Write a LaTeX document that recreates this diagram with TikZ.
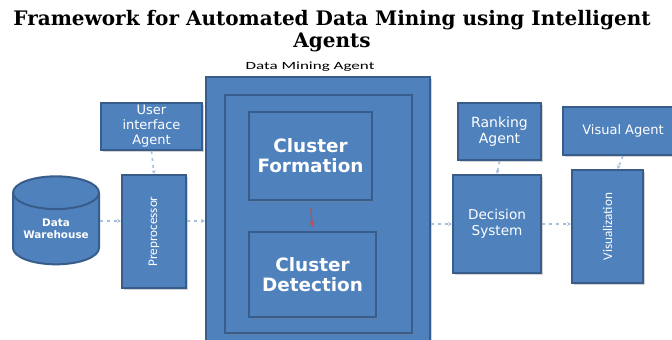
\documentclass[tikz,border=0pt]{standalone}
\usepackage{fontspec}
\setmainfont{DejaVu Sans}
\newfontfamily\titlefont{DejaVu Serif}
\newfontfamily\narrowfont{Carlito}
\usetikzlibrary{shapes.geometric,arrows.meta,shadows}

\definecolor{boxblue}{HTML}{4F81BD}
\definecolor{boxline}{HTML}{385D8A}
\definecolor{linkblue}{HTML}{A7BFDE}
\definecolor{linkred}{HTML}{C0504D}

\tikzset{
  block/.style={draw=boxline, line width=1pt, fill=boxblue, text=white, align=center,
    inner sep=0pt, drop shadow={shadow xshift=1pt, shadow yshift=-1pt, opacity=0.35}},
  link/.style={draw=linkblue, line width=0.8pt, dashed, dash pattern=on 1.5pt off 2pt,
    -{Stealth[length=2pt,width=2pt]}},
}

\begin{document}
\begin{tikzpicture}[x=0.5pt, y=-0.5pt]
  \useasboundingbox (0,0) rectangle (672,339);
  \begin{scope}
    \clip (0,0) rectangle (672,339);
    \node at (332,20) {\titlefont\bfseries\fontsize{10}{12}\selectfont Framework for Automated Data Mining using Intelligent};
    \node at (332,42) {\titlefont\bfseries\fontsize{10}{12}\selectfont Agents};
    \node[xscale=1.55] (lbl) at (310,67) {\narrowfont\fontsize{5.5}{6}\selectfont Data Mining Agent};

    \node[block, minimum width=112pt, minimum height=134pt] (dma) at (318,211) {};
    \node[block, minimum width=93.5pt, minimum height=119pt, drop shadow={opacity=0}] (core) at (318.5,214) {};
    \node[block, minimum width=61.5pt, minimum height=44pt, font=\bfseries\fontsize{9.2}{10}\selectfont] (cf) at (310.5,156) {Cluster\\Formation};
    \node[block, minimum width=63.5pt, minimum height=42.5pt, font=\bfseries\fontsize{9.2}{10}\selectfont] (cd) at (312.5,274.5) {Cluster\\Detection};

    \node[block, minimum width=50.5pt, minimum height=23.5pt, font=\fontsize{6.5}{7.5}\selectfont] (ui) at (151.5,126.5) {User\\interface\\Agent};
    \node[block, minimum width=32pt, minimum height=56.5pt] (pre) at (154,231.5) {};
    \node[rotate=90, text=white, font=\narrowfont\fontsize{6.6}{7}\selectfont] at (pre) {Preprocessor};
    \node[cylinder, shape border rotate=90, aspect=0.5, draw=boxline, line width=1pt, fill=boxblue,
      text=white, align=center, minimum width=43pt, minimum height=44pt, inner sep=0pt,
      font=\bfseries\fontsize{5.2}{6.2}\selectfont] (dw) at (56,229) {Data\\Warehouse};

    \node[block, minimum width=41.5pt, minimum height=28.5pt, font=\fontsize{7}{8}\selectfont] (rank) at (499.5,131.5) {Ranking\\Agent};
    \node[block, minimum width=44pt, minimum height=49pt, font=\fontsize{6.8}{8}\selectfont] (ds) at (497,224) {Decision\\System};
    \node[block, minimum width=60pt, minimum height=24pt, font=\fontsize{6.5}{7.5}\selectfont] (va) at (623,131) {Visual Agent};
    \node[block, minimum width=35.5pt, minimum height=56.5pt] (vis) at (607.5,226.5) {};
    \node[rotate=90, text=white, font=\narrowfont\fontsize{6.6}{7}\selectfont] at (vis) {Visualization};

    \draw[link] ([yshift=4pt]dw.east) -- ([yshift=4pt]dw.east -| pre.west);
    \draw[link] ([yshift=4pt]dw.east -| pre.east) -- ([yshift=4pt]dw.east -| dma.west);
    \draw[link] (ui.south) -- (pre.north);
    \draw[link] (ds.west -| dma.east) -- (ds.west);
    \draw[link] (ds.east) -- (ds.east -| vis.west);
    \draw[link] (rank.south) -- (ds.north);
    \draw[link] (va.south) -- ([xshift=5pt]vis.north);
    \draw[linkred, line width=0.7pt, -{Stealth[length=3pt,width=2.5pt]}, shorten <=3.5pt, shorten >=2pt] (cf.south) -- (cd.north);
  \end{scope}
\end{tikzpicture}
\end{document}
